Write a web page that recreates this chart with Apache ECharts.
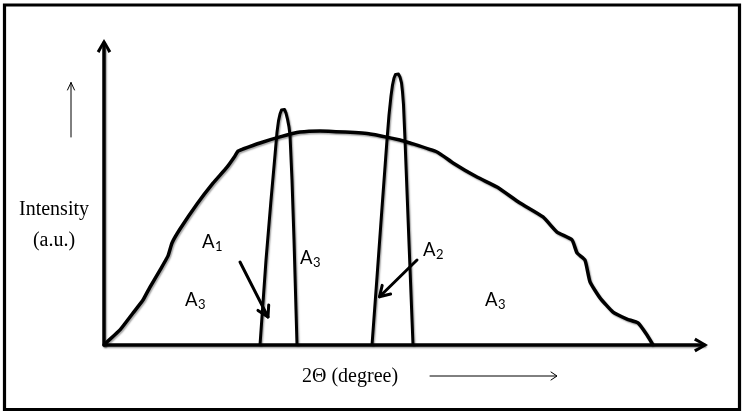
<!DOCTYPE html>
<html>
<head>
<meta charset="utf-8">
<script src="https://cdn.jsdelivr.net/npm/echarts@6/dist/echarts.min.js"></script>
<style>html,body{margin:0;padding:0;background:#fff}#c{width:745px;height:415px}</style>
</head>
<body>
<div id="c"></div>
<script>
// 2θ (degree) vs intensity (a.u.) – schematic values
var xRange = [10, 70];
var yRange = [0, 100];
// broad amorphous hump
var humpPoints = [
  [10.0,0],[10.3,1.0],[11.6,5.0],[12.9,10.6],[13.9,14.9],[14.6,19.2],[15.6,24.8],
  [16.4,29.5],[16.8,33.8],[17.6,38.4],[19.3,46.7],[20.9,53.6],[22.3,58.9],[23.1,62.6],
  [23.4,64.2],[23.9,64.9],[25.6,66.9],[27.6,68.9],[29.6,70.5],[31.6,70.9],[34.1,70.5],
  [36.6,69.9],[39.6,67.9],[40.6,66.9],[43.3,63.9],[44.9,60.3],[47.3,55.6],[49.3,52.3],
  [51.6,47.0],[53.9,42.4],[55.3,37.4],[56.8,34.8],[57.3,30.5],[58.1,28.1],[58.6,20.9],
  [59.6,15.6],[60.9,10.9],[62.3,8.6],[63.4,7.3],[64.3,3.3],[64.9,0]
];
// first crystalline peak
var peak1Points = [
  [25.6,0],[26.2,28.1],[26.7,48.0],[27.1,62.9],[27.3,70.5],[27.45,74.2],[27.6,76.5],
  [27.75,77.8],[27.9,78.3],[28.05,78.0],[28.2,76.8],[28.35,74.8],[28.5,72.2],[28.6,69.5],
  [28.8,54.6],[29.0,34.8],[29.3,0]
];
// second crystalline peak
var peak2Points = [
  [36.8,0],[37.3,22.5],[37.8,45.4],[38.3,67.9],[38.5,76.2],[38.7,82.5],[38.85,86.1],
  [39.0,88.4],[39.15,89.6],[39.3,90.1],[39.45,89.7],[39.6,88.7],[39.75,86.8],[39.85,83.8],
  [39.95,79.5],[40.1,67.9],[40.5,33.8],[40.9,0]
];
var yTitle = ['Intensity', '(a.u.)'];
var xTitle = '2\u0398 (degree)';

var chev = 'path://M7,0 L14,12 L11.4,13.6 L7,5.2 L2.6,13.6 L0,12 Z';
var shadow = {shadowColor:'rgba(0,0,0,0.35)', shadowBlur:1.5, shadowOffsetX:1.2, shadowOffsetY:1.5};
function ls(w){ return Object.assign({color:'#000', width:w}, shadow); }
function axis(min,max){
  return {type:'value', min:min, max:max,
    axisLine:{show:true, onZero:false, symbol:['none', chev], symbolSize:[15,14], symbolOffset:[0,-3], lineStyle:ls(3.5)},
    axisTick:{show:false}, axisLabel:{show:false}, splitLine:{show:false}};
}
function series(d, w, sm){
  return {type:'line', data:d, symbol:'none', smooth:sm, clip:false,
    lineStyle:Object.assign(ls(w), {join:'round'}), z:3};
}
function gline(pts, w){
  return {type:'polyline', shape:{points:pts}, style:{stroke:'#000', lineWidth:w, fill:null, lineCap:'round', lineJoin:'round'}};
}
function gtext(t, x, y, font, size, align){
  return {type:'text', x:x, y:y, style:{text:t, fill:'#000', font:size+'px "'+font+'"', textAlign:align||'left', textVerticalAlign:'middle'}};
}
function aLabel(sub, x, y){
  return [gtext('A', x, y, 'Lato', 18.5), gtext(sub, x+13, y+4.5, 'Lato', 13)];
}

var chart = echarts.init(document.getElementById('c'), null, {renderer:'canvas'});
chart.setOption({
  animation:false,
  backgroundColor:'#fff',
  grid:{left:104, right:41, top:43, bottom:70},
  xAxis: axis(xRange[0], xRange[1]),
  yAxis: axis(yRange[0], yRange[1]),
  series:[ series(humpPoints, 3.5, 0.15), series(peak1Points, 3, false), series(peak2Points, 3, false) ],
  graphic:[
    {type:'rect', shape:{x:4.5, y:5, width:735, height:404.5}, style:{stroke:'#000', lineWidth:3.2, fill:null}},
    gline([[71,137],[71,82.5]], 1),
    gline([[67.5,90],[71,82.5],[74.5,90]], 1),
    gline([[430,376],[556.5,376]], 1),
    gline([[551,372],[557,376],[551,380]], 1),
    gline([[240,262],[268,317]], 3),
    gline([[258,310.4],[268,317],[268.7,305]], 3),
    gline([[417,260],[379.5,296.7]], 3),
    gline([[382.2,285.4],[379.5,296.7],[390.6,294]], 3),
    gtext(yTitle[0], 54, 210, 'Liberation Serif', 20, 'center'),
    gtext(yTitle[1], 54, 241, 'Liberation Serif', 20, 'center'),
    gtext(xTitle, 302, 377, 'Liberation Serif', 20, 'left')
  ].concat(aLabel('1',202,242), aLabel('3',185,300), aLabel('3',300,258), aLabel('2',423,250), aLabel('3',485,300))
});
</script>
</body>
</html>
